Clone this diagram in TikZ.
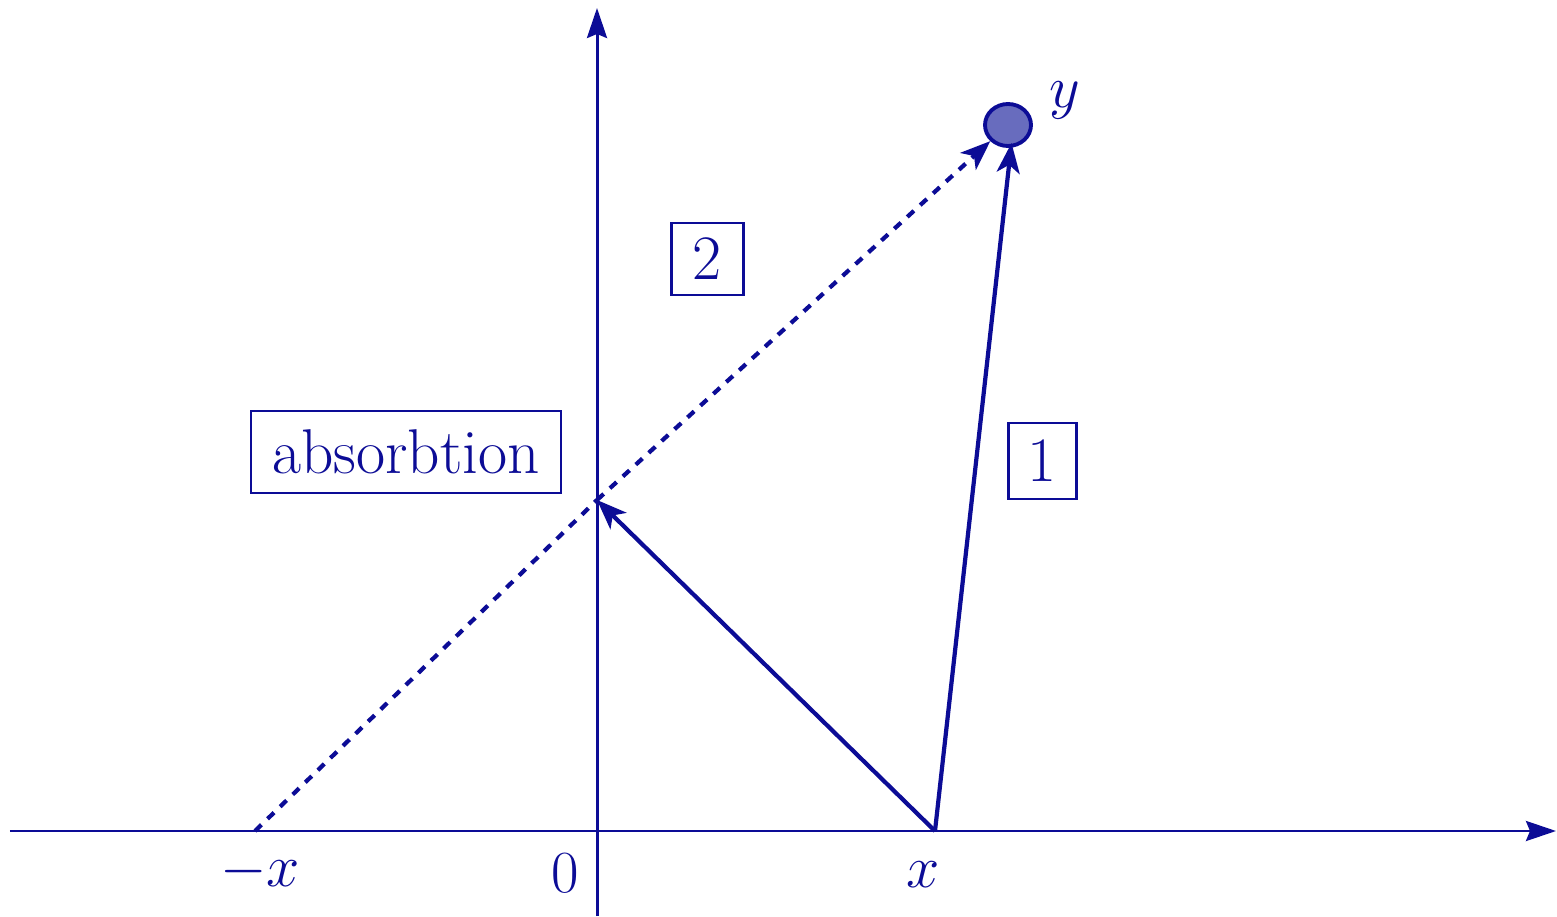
\RequirePackage{fix-cm}
\documentclass[tikz,border=0pt]{standalone}
\usetikzlibrary{arrows.meta,shapes.geometric}
\definecolor{ink}{RGB}{12,12,150}
\definecolor{dotfill}{RGB}{104,108,190}
\begin{document}
\begin{tikzpicture}[
  every node/.style={text=ink,font=\fontsize{34}{40}\selectfont},
  axis/.style={draw=ink,line width=1.7pt,-{Stealth[length=0.6cm,width=0.4cm,inset=0.08cm]}},
  ray/.style={draw=ink,line width=2.4pt,-{Stealth[length=0.6cm,width=0.46cm,inset=0.16cm]}},
  dashray/.style={ray,dash pattern=on 0.18cm off 0.17cm},
  lbox/.style={draw=ink,line width=1.7pt,inner sep=0pt,font=\fontsize{36}{40}\selectfont}
]
\useasboundingbox (0,0) rectangle (31.14,18.32);
\coordinate (xl) at (0.2,1.70);
\coordinate (xr) at (31.12,1.70);
\coordinate (yb) at (11.94,0);
\coordinate (yt) at (11.94,18.16);
\coordinate (X) at (18.70,1.70);
\coordinate (mX) at (5.10,1.70);
\coordinate (P) at (11.94,8.32);
\coordinate (Ytip) at (20.23,15.46);
\draw[axis] (xl) -- (xr);
\draw[axis] (yb) -- (yt);
\node[ellipse,draw=ink,fill=dotfill,line width=2.2pt,minimum width=0.92cm,minimum height=0.84cm,inner sep=0pt] (Y) at (20.16,15.82) {};
\node (ylab) at (21.30,16.32) {$y$};
\node (mxlab) at (5.2,0.88) {$-x$};
\node (zlab) at (11.3,0.86) {$0$};
\node (xlab) at (18.46,0.82) {$x$};
\node[lbox,minimum width=1.44cm,minimum height=1.44cm] (b2) at (14.14,13.14) {2};
\node[lbox,minimum width=1.36cm,minimum height=1.52cm] (b1) at (20.84,9.10) {1};
\node[lbox,minimum width=6.2cm,minimum height=1.64cm] (ab) at (8.12,9.28) {absorbtion};
\draw[dash pattern=on 0.18cm off 0.17cm,draw=ink,line width=2.4pt] (mX) -- (P);
\draw[dashray] (P) -- (Y);
\draw[ray] (X) -- (P);
\draw[ray] (X) -- (Ytip);
\end{tikzpicture}
\end{document}
